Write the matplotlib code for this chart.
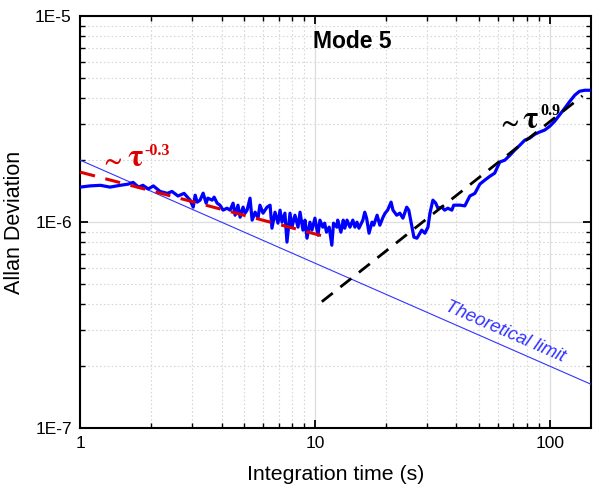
import numpy as np
import matplotlib as mpl
mpl.use('Agg')
import matplotlib.pyplot as plt
from matplotlib.ticker import LogLocator, FixedLocator, NullFormatter

plt.rcParams['font.family'] = ['Liberation Sans', 'DejaVu Sans']
plt.rcParams['mathtext.fontset'] = 'stix'

# measured Allan deviation (tau in s, sigma in units of 1e-6)
tau = [1.00, 1.10, 1.22, 1.34, 1.48, 1.60, 1.68, 1.77, 1.85, 1.95, 2.05, 2.19,
       2.35, 2.46, 2.61, 2.77,
       2.94, 3.03, 3.09, 3.15, 3.24, 3.34, 3.44, 3.50, 3.65, 3.72, 3.83, 3.94,
       4.06, 4.22, 4.35, 4.48, 4.57, 4.70, 4.80, 4.94, 5.04, 5.14, 5.29, 5.40,
       5.56, 5.72, 5.83, 6.01, 6.25, 6.44, 6.56, 6.76, 6.96, 7.10, 7.24, 7.45,
       7.60, 7.83, 7.98, 8.22, 8.47, 8.64, 8.89, 9.07, 9.25, 9.52, 9.71, 10.0,
       10.3, 10.5, 10.8, 11.0, 11.2, 11.5, 11.8, 12.0, 12.4, 12.5, 12.9, 13.2,
       13.4, 13.7, 14.1, 14.5, 14.8, 15.1, 15.4, 16.0, 16.3, 16.6, 17.0, 17.5,
       17.8, 18.4, 18.9, 19.5, 19.9, 20.4, 21.1, 21.5, 22.3, 23.0, 23.7, 24.6,
       25.1, 25.9, 26.4, 27.2, 28.0, 28.5, 29.4, 30.3, 30.9, 31.8, 32.7, 33.4,
       34.7, 35.7, 36.8, 38.3, 39.0,
       41.4, 43.5, 45.7, 48.0, 50.4, 52.9, 55.6, 58.3, 61.3, 64.4,
       67.6, 71.0, 74.5, 78.3, 82.2, 86.3, 90.6, 95.2, 100, 105, 110, 116,
       122, 128, 134, 141, 149]
sigma = [1.48, 1.50, 1.51, 1.48, 1.51, 1.53, 1.56, 1.48, 1.51, 1.45, 1.50, 1.41,
         1.38, 1.41, 1.34, 1.38,
         1.279, 1.183, 1.352, 1.251, 1.279, 1.383, 1.237, 1.308, 1.279, 1.323, 1.237, 1.209,
         1.144, 1.169, 1.144, 1.237, 1.081, 1.209, 1.057, 1.183, 1.106, 1.144, 1.308, 1.023,
         1.118, 1.046, 1.209, 1.106, 1.183, 1.209, 0.935, 1.118, 0.989, 1.144, 1.000, 1.106,
         0.800, 1.106, 0.946, 1.081, 0.946, 1.118, 0.915, 1.023, 0.836, 1.000, 0.915, 1.046,
         0.865, 1.023, 0.946, 0.989, 0.894, 0.946, 0.773, 0.989, 0.946, 1.023, 0.894, 1.023,
         0.935, 1.023, 0.946, 1.023, 0.946, 1.000, 0.935, 1.023, 1.118, 1.046, 0.884, 1.000,
         0.967, 1.081, 0.967, 1.057, 1.106, 1.144, 1.251, 1.144, 1.081, 1.106, 1.046, 1.183,
         1.144, 0.946, 0.846, 0.836, 0.884, 0.915, 0.884, 0.946, 1.106, 1.279, 1.237, 1.169,
         1.183, 1.144, 1.169, 1.144, 1.209,
         1.21, 1.20, 1.34, 1.38, 1.53, 1.60, 1.67, 1.73, 1.96, 2.00,
         2.11, 2.24, 2.36, 2.50, 2.56, 2.67, 2.74, 2.80, 2.92, 3.09, 3.31, 3.58,
         3.87, 4.14, 4.32, 4.37, 4.37]

# power-law guides: (tau start, tau end, amplitude at tau=1 in 1e-6, exponent)
red_fit = (1.0, 10.8, 1.75, -0.3)
black_fit = (10.7, 138.0, 0.0487, 0.9)
limit_fit = (1.0, 150.0, 2.0, -0.5)

tau = np.array(tau)
sigma = np.array(sigma) * 1e-6

def power_line(fit, n=50):
    t = np.logspace(np.log10(fit[0]), np.log10(fit[1]), n)
    return t, fit[2] * 1e-6 * t ** fit[3]

def slope_label(x_sim, x_tau, x_exp, y_base, y_top, exp, color):
    # "~ tau^exp" built from three pieces
    ax.text(x_sim, y_base, r'$\mathbf{\sim}$', color=color, fontsize=18)
    ax.text(x_tau, y_base, r'$\mathbf{\tau}$', color=color, fontsize=23)
    ax.text(x_exp, y_top, exp, color=color, fontsize=11.5, fontweight='bold',
            family=['Liberation Serif', 'DejaVu Serif'], va='top')

fig, ax = plt.subplots(figsize=(5.94, 4.91), dpi=100)
fig.subplots_adjust(left=0.135, right=0.995, top=0.967, bottom=0.128)

ax.set_xscale('log')
ax.set_yscale('log')
ax.set_xlim(1, 150)
ax.set_ylim(1e-7, 1e-5)

t, s = power_line(limit_fit)
ax.plot(t, s, color='#3333ff', lw=0.8, zorder=3)
ax.plot(tau, sigma, color='#0000ff', lw=2.3, zorder=4)
t, s = power_line(red_fit)
ax.plot(t, s, color='#dd0000', lw=2.2, ls=(0, (5, 3.5)), zorder=5)
t, s = power_line(black_fit)
ax.plot(t, s, color='black', lw=2.0, ls=(0, (5, 3.5)), zorder=5)

slope_label(1.217, 1.585, 1.872, 1.87e-6, 2.42e-6, '-0.3', '#dd0000')
slope_label(59.5, 76.0, 91.6, 2.86e-6, 3.78e-6, '0.9', 'black')

ax.text(0.532, 0.966, 'Mode 5', transform=ax.transAxes, ha='center', va='top',
        fontsize=16.5, fontweight='bold')
ax.text(64.4, 2.92e-7, 'Theoretical limit', color='#3333ff', fontsize=13.3,
        style='italic', rotation=-23.7, ha='center', va='center',
        rotation_mode='anchor')

ax.xaxis.set_major_locator(FixedLocator([1, 10, 100]))
ax.set_xticklabels(['1', '10', '100'])
ax.xaxis.set_minor_locator(LogLocator(base=10, subs=np.arange(2, 10)))
ax.xaxis.set_minor_formatter(NullFormatter())
ax.yaxis.set_major_locator(FixedLocator([1e-7, 1e-6, 1e-5]))
ax.set_yticklabels(['1E-7', '1E-6', '1E-5'])
ax.yaxis.set_minor_locator(LogLocator(base=10, subs=np.arange(2, 10)))
ax.yaxis.set_minor_formatter(NullFormatter())

ax.tick_params(which='both', direction='in', top=True, right=True, labelsize=12.5, pad=6)
ax.tick_params(which='major', length=6, width=1.3)
ax.tick_params(which='minor', length=3.5, width=1.0)
for sp in ax.spines.values():
    sp.set_linewidth(1.5)

ax.grid(which='major', color='#dddddd', lw=0.9, ls='-')
ax.grid(which='minor', color='#d8d8d8', lw=0.8, ls=(0, (1.5, 2)))
ax.set_axisbelow(True)

ax.set_xlabel('Integration time (s)', fontsize=15.3, labelpad=10)
ax.set_ylabel('Allan Deviation', fontsize=15.5)
ax.yaxis.set_label_coords(-0.108, 0.5)

plt.savefig('out.png')
